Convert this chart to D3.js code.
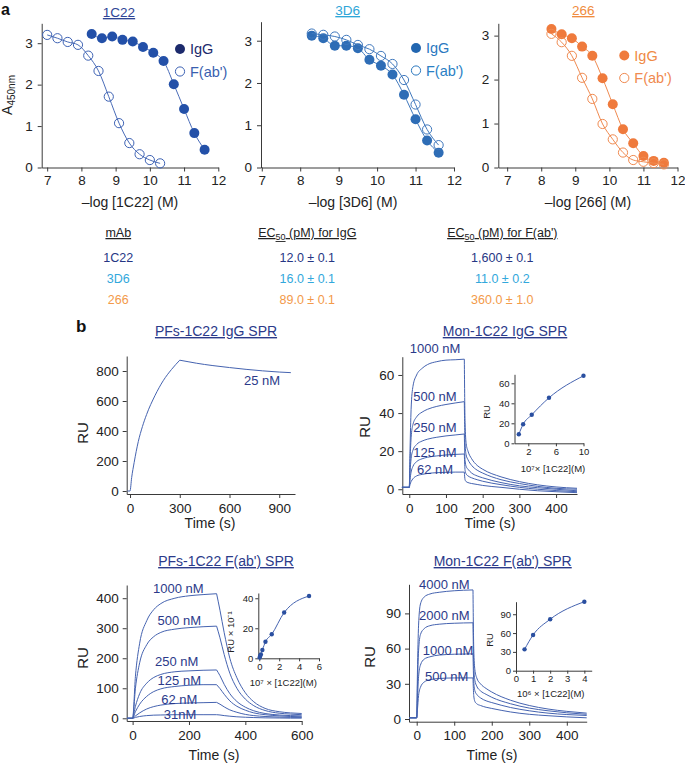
<!DOCTYPE html>
<html><head><meta charset="utf-8">
<script src="https://cdn.jsdelivr.net/npm/d3@7"></script>
<style>
body{margin:0;background:#fff}
text{font-family:"Liberation Sans",Arial,Helvetica,sans-serif}
</style>
</head><body>
<svg id="c" width="685" height="766"></svg>
<script>
// ---------------- Panel a data ----------------
const xTicksA = [7, 8, 9, 10, 11, 12];
const yTicksA = [0, 1, 2, 3];
const conc_1C22_IgG = [8.3, 8.6, 8.9, 9.2, 9.5, 9.8, 10.1, 10.4, 10.7, 11.0, 11.3, 11.6];
const a450_1C22_IgG = [3.22, 3.12, 3.16, 3.08, 3.04, 2.91, 2.77, 2.57, 2.01, 1.41, 0.83, 0.43];
const conc_1C22_Fab = [7.0, 7.3, 7.6, 7.9, 8.2, 8.5, 8.8, 9.1, 9.4, 9.7, 10.0, 10.3];
const a450_1C22_Fab = [3.2, 3.12, 3.03, 2.96, 2.7, 2.33, 1.71, 1.07, 0.59, 0.32, 0.18, 0.1];
const conc_3D6 = [8.3, 8.6, 8.9, 9.2, 9.5, 9.8, 10.1, 10.4, 10.7, 11.0, 11.3, 11.6];
const a450_3D6_IgG = [3.12, 3.06, 2.88, 2.88, 2.82, 2.55, 2.41, 2.2, 1.72, 1.14, 0.64, 0.35];
const a450_3D6_Fab = [3.17, 3.14, 3.1, 3.02, 2.9, 2.8, 2.64, 2.45, 2.07, 1.49, 0.9, 0.53];
const conc_266 = [8.3, 8.6, 8.9, 9.2, 9.5, 9.8, 10.1, 10.4, 10.7, 11.0, 11.3, 11.6];
const a450_266_IgG = [3.15, 3.03, 2.94, 2.75, 2.54, 2.03, 1.44, 0.87, 0.55, 0.26, 0.15, 0.11];
const a450_266_Fab = [3.04, 2.85, 2.54, 2.04, 1.56, 0.99, 0.64, 0.34, 0.17, 0.13, 0.1, 0.07];

// ---------------- Table ----------------
const mAbs = ["1C22", "3D6", "266"];
const ec50IgG = ["12.0 ± 0.1", "16.0 ± 0.1", "89.0 ± 0.1"];
const ec50Fab = ["1,600 ± 0.1", "11.0 ± 0.2", "360.0 ± 1.0"];

// ---------------- Panel b data ----------------
// PFs-1C22 IgG SPR (25 nM)
const pfsIgG_25_assoc = [[-15,0],[0,0],[10,90],[25,190],[50,330],[75,430],[100,510],[150,635],[200,735],[250,810],[300,872]];
const pfsIgG_25_dissoc = [[300,872],[350,862],[400,852],[500,836],[600,823],[700,811],[800,801],[900,793],[970,789]];

// Mon-1C22 IgG SPR
const monIgG_labels = ["1000 nM", "500 nM", "250 nM", "125 nM", "62 nM"];
const monIgG_assoc = [
  [[-20,1],[0,1],[2,20],[5,42],[10,54],[20,60],[35,63.5],[50,65.5],[75,67],[100,67.8],[125,68],[150,68.3]],
  [[-20,1],[0,1],[2,14],[5,27],[10,34],[20,38],[35,40.5],[50,42],[75,43.5],[100,44.5],[125,45.3],[150,46]],
  [[-20,1],[0,1],[2,9],[5,16],[10,20.5],[20,23.5],[35,25.3],[50,26.3],[75,27.3],[100,28],[125,28.5],[150,29]],
  [[-20,1],[0,1],[2,5],[5,9],[10,12],[20,14.5],[35,16],[50,16.8],[75,17.5],[100,18],[125,18.3],[150,18.5]],
  [[-20,1],[0,1],[2,2.5],[5,4],[10,5.5],[20,7],[35,7.8],[50,8.3],[75,8.7],[100,8.9],[125,9],[150,9]]
];
const monIgG_dissoc = [
  [[150,68.3],[152,35],[155,24],[160,20],[170,16],[185,12.5],[200,10.5],[250,6.5],[300,4],[350,2.3],[400,1.2],[457,0.5]],
  [[150,46],[152,24],[155,18],[160,15.5],[170,12.5],[185,10],[200,8.5],[250,5],[300,3],[350,1.5],[400,0.5],[457,0]],
  [[150,29],[152,15],[155,12],[160,10.5],[170,8.5],[185,7],[200,6],[250,3.5],[300,1.8],[350,0.8],[400,0],[457,-0.8]],
  [[150,18.5],[152,10],[155,8],[160,7],[170,6],[185,5],[200,4.2],[250,2.4],[300,1],[350,0],[400,-0.7],[457,-1.3]],
  [[150,9],[152,5],[155,4],[160,3.5],[170,3],[185,2.5],[200,2],[250,1],[300,0],[350,-0.8],[400,-1.3],[457,-1.8]]
];
const monIgG_insetX = [0.625, 1.25, 2.5, 5, 10];
const monIgG_insetY = [9, 19, 28.5, 45.5, 67.5];

// PFs-1C22 F(ab') SPR
const pfsFab_labels = ["1000 nM", "500 nM", "250 nM", "125 nM", "62 nM", "31nM"];
const pfsFab_assoc = [
  [[-20,0],[0,0],[10,140],[25,250],[50,325],[75,362],[100,382],[150,400],[200,408],[250,412],[298,415]],
  [[-20,0],[0,0],[10,100],[25,185],[50,245],[75,272],[100,286],[150,297],[200,302],[250,305],[298,307]],
  [[-20,0],[0,0],[10,40],[25,82],[50,117],[75,136],[100,146],[150,155],[200,158],[250,160],[298,161]],
  [[-20,0],[0,0],[10,22],[25,47],[50,73],[75,89],[100,98],[150,106],[200,110],[250,112],[298,112]],
  [[-20,0],[0,0],[10,8],[25,18],[50,31],[75,39],[100,44],[150,49],[200,51],[250,52],[298,53]],
  [[-20,0],[0,0],[10,3],[25,6],[50,9],[75,10.5],[100,11],[150,12],[200,12],[250,12],[298,12]]
];
const pfsFab_dissoc = [
  [[298,415],[310,360],[325,285],[345,200],[370,135],[400,85],[430,55],[470,33],[520,22],[560,18],[600,16]],
  [[298,307],[310,268],[325,212],[345,150],[370,100],[400,64],[430,42],[470,26],[520,17],[560,14],[600,12]],
  [[298,161],[310,142],[325,113],[345,82],[370,56],[400,37],[430,25],[470,16],[520,11],[560,9],[600,8]],
  [[298,112],[310,99],[325,80],[345,58],[370,40],[400,27],[430,18],[470,12],[520,8],[560,6],[600,5]],
  [[298,53],[310,47],[325,38],[345,28],[370,20],[400,13],[430,9],[470,6],[520,4],[560,3],[600,3]],
  [[298,12],[310,11],[325,9],[345,7],[370,5],[400,3.5],[430,2.5],[470,1.5],[520,1],[560,0.5],[600,0.5]]
];
const pfsFab_insetX = [0.04, 0.08, 0.16, 0.31, 0.62, 1.25, 2.5, 5];
const pfsFab_insetY = [0.5, 1.5, 2.5, 5.5, 11, 16, 30.5, 41.5];

// Mon-1C22 F(ab') SPR
const monFab_labels = ["4000 nM", "2000 nM", "1000 nM", "500 nM"];
const monFab_assoc = [
  [[-20,1],[0,1],[2,40],[5,80],[10,98],[20,104],[35,106.5],[60,108],[100,109.3],[150,110]],
  [[-20,1],[0,1],[2,28],[5,58],[10,72],[20,77],[35,79.5],[60,80.8],[100,81.6],[150,82]],
  [[-20,1],[0,1],[2,16],[5,36],[10,46],[20,51],[35,53],[60,54.5],[100,55.2],[150,55.5]],
  [[-20,1],[0,1],[2,8],[5,20],[10,27],[20,31.5],[35,33.5],[60,34.5],[100,35],[150,35]]
];
const monFab_dissoc = [
  [[150,110],[152,60],[155,42],[160,35],[170,30],[185,26],[200,23],[250,16],[300,11.5],[350,8.5],[400,6.5],[453,5]],
  [[150,82],[152,45],[155,33],[160,28],[170,24],[185,21],[200,18.5],[250,13],[300,9.3],[350,7],[400,5.3],[453,4]],
  [[150,55.5],[152,32],[155,24],[160,21],[170,18],[185,15.5],[200,14],[250,9.8],[300,7],[350,5],[400,3.8],[453,3]],
  [[150,35],[152,20],[155,15],[160,13],[170,11.5],[185,10],[200,9],[250,6],[300,4],[350,2.8],[400,1.8],[453,1]]
];
const monFab_insetX = [0.5, 1, 2, 4];
const monFab_insetY = [34, 57, 82, 110];

// ---------------- Drawing ----------------
const svg = d3.select("#c");
const NAVY = "#2b3a8a";
const CURVE = "#4563b0";
const AXIS = "#3a3a3a";
const zip = (a, b) => a.map((v, i) => [v, b[i]]);
const fmt = d => String(d);

function styleAxis(g, fs) {
  g.select(".domain").attr("stroke", AXIS).attr("stroke-width", 1);
  g.selectAll(".tick line").attr("stroke", AXIS);
  g.selectAll(".tick text").attr("fill", "#222").attr("font-size", fs)
    .attr("font-family", '"Liberation Sans",Arial,sans-serif');
}

function elisa(o) {
  const x = d3.scaleLinear().domain(o.xd).range(o.xr);
  const y = d3.scaleLinear().domain(o.yd).range(o.yr);
  const g = svg.append("g");
  g.append("g").attr("transform", `translate(0,${o.yr[0]})`)
    .call(d3.axisBottom(x).tickValues(xTicksA).tickFormat(fmt).tickSize(4).tickSizeOuter(0).tickPadding(4))
    .call(a => styleAxis(a, 13.5));
  g.append("g").attr("transform", `translate(${o.xr[0]},0)`)
    .call(d3.axisLeft(y).tickValues(yTicksA).tickFormat(fmt).tickSize(4).tickSizeOuter(0).tickPadding(5))
    .call(a => styleAxis(a, 13.5));
  const line = d3.line().x(d => x(d[0])).y(d => y(d[1])).curve(d3.curveMonotoneX);
  o.series.forEach(s => {
    g.append("path").datum(s.pts).attr("d", line).attr("fill", "none")
      .attr("stroke", s.line).attr("stroke-width", 1);
    g.selectAll(null).data(s.pts).enter().append("circle")
      .attr("cx", d => x(d[0])).attr("cy", d => y(d[1])).attr("r", s.filled ? 5 : 4.6)
      .attr("fill", s.filled ? s.color : "none")
      .attr("stroke", s.color).attr("stroke-width", s.filled ? 0 : 1);
  });
  // legend
  o.series.forEach((s, i) => {
    const ly = o.leg[1] + i * 22.5;
    g.append("circle").attr("cx", o.leg[0]).attr("cy", ly).attr("r", s.filled ? 5 : 4.6)
      .attr("fill", s.filled ? s.legColor : "none").attr("stroke", s.legColor)
      .attr("stroke-width", s.filled ? 0 : 1);
    g.append("text").attr("x", o.leg[0] + 10).attr("y", ly + 5).attr("font-size", 14.5)
      .attr("fill", s.textColor).text(s.name);
  });
  g.append("text").attr("x", o.title[0]).attr("y", o.title[1]).attr("text-anchor", "middle")
    .attr("font-size", 13.5).attr("fill", o.titleColor).style("text-decoration", "underline")
    .text(o.titleText);
  g.append("text").attr("x", o.xlab[0]).attr("y", o.xlab[1]).attr("text-anchor", "middle")
    .attr("font-size", 14).attr("fill", "#222").text(o.xlabText);
}

elisa({
  xd: [6.84, 12], xr: [41.7, 218.3], yd: [0, 3.48], yr: [167.5, 23.3],
  series: [
    { name: "IgG", pts: zip(conc_1C22_IgG, a450_1C22_IgG), filled: true, color: "#2350a8", line: "#4a6cb8", legColor: "#1c2a6c", textColor: "#1c2a6c" },
    { name: "F(ab')", pts: zip(conc_1C22_Fab, a450_1C22_Fab), filled: false, color: "#3d62b4", line: "#4a6cb8", legColor: "#3d62b4", textColor: "#3a5fb0" }
  ],
  leg: [180, 49], title: [119, 17], titleColor: "#2f4596", titleText: "1C22",
  xlab: [130, 207], xlabText: "–log [1C22] (M)"
});
elisa({
  xd: [6.98, 12], xr: [261, 454], yd: [0, 3.45], yr: [167.5, 21.7],
  series: [
    { name: "IgG", pts: zip(conc_3D6, a450_3D6_IgG), filled: true, color: "#2e6db6", line: "#3f78bd", legColor: "#2266b0", textColor: "#2a78bf" },
    { name: "F(ab')", pts: zip(conc_3D6, a450_3D6_Fab), filled: false, color: "#3f78bd", line: "#3f78bd", legColor: "#2a78bf", textColor: "#2a80c4" }
  ],
  leg: [416, 48], title: [347.7, 15], titleColor: "#2ea6d8", titleText: "3D6",
  xlab: [353, 207], xlabText: "–log [3D6] (M)"
});
elisa({
  xd: [6.74, 12], xr: [498.3, 677.5], yd: [0, 3.28], yr: [167.5, 23.3],
  series: [
    { name: "IgG", pts: zip(conc_266, a450_266_IgG), filled: true, color: "#ef7a3c", line: "#f08a50", legColor: "#ef7a3c", textColor: "#ef8a45" },
    { name: "F(ab')", pts: zip(conc_266, a450_266_Fab), filled: false, color: "#f08a50", line: "#f08a50", legColor: "#f08a50", textColor: "#f08a50" }
  ],
  leg: [624.3, 55.5], title: [583.3, 15], titleColor: "#f08c40", titleText: "266",
  xlab: [588, 207], xlabText: "–log [266] (M)"
});

// panel letters and y label
svg.append("text").attr("x", 1).attr("y", 15).attr("font-size", 16).attr("font-weight", "bold").attr("fill", "#111").text("a");
const ylab = svg.append("text").attr("transform", "translate(12,95) rotate(-90)").attr("text-anchor", "middle")
  .attr("font-size", 14).attr("fill", "#222");
ylab.append("tspan").text("A");
ylab.append("tspan").attr("font-size", 10).attr("dy", 3).text("450nm");

// table
const tcols = [118.3, 307.3, 502.3];
const rowColors = ["#263684", "#32a8dc", "#f39a4a"];
svg.append("text").attr("x", tcols[0]).attr("y", 237).attr("text-anchor", "middle").attr("font-size", 12.5)
  .attr("fill", "#222").style("text-decoration", "underline").text("mAb");
[[tcols[1], " (pM) for IgG"], [tcols[2], " (pM) for F(ab')"]].forEach(([cx, rest]) => {
  const t = svg.append("text").attr("x", cx).attr("y", 237).attr("text-anchor", "middle").attr("font-size", 12.5)
    .attr("fill", "#222").style("text-decoration", "underline");
  t.append("tspan").text("EC");
  t.append("tspan").attr("font-size", 9).attr("dy", 3).text("50");
  t.append("tspan").attr("dy", -3).text(rest);
});
mAbs.forEach((m, i) => {
  const yy = 261.5 + i * 21;
  [m, ec50IgG[i], ec50Fab[i]].forEach((s, j) => {
    svg.append("text").attr("x", tcols[j]).attr("y", yy).attr("text-anchor", "middle").attr("font-size", 12.5)
      .attr("fill", rowColors[i]).text(s);
  });
});

svg.append("text").attr("x", 76).attr("y", 332).attr("font-size", 17).attr("font-weight", "bold").attr("fill", "#111").text("b");

function spr(o) {
  const x = d3.scaleLinear().domain(o.xd).range(o.xr);
  const y = d3.scaleLinear().domain(o.yd).range(o.yr);
  const g = svg.append("g");
  g.append("g").attr("transform", `translate(0,${o.yr[0]})`)
    .call(d3.axisBottom(x).tickValues(o.xt).tickFormat(fmt).tickSize(4).tickSizeOuter(0).tickPadding(5))
    .call(a => styleAxis(a, 13.5));
  g.append("g").attr("transform", `translate(${o.xr[0]},0)`)
    .call(d3.axisLeft(y).tickValues(o.yt).tickFormat(fmt).tickSize(4).tickSizeOuter(0).tickPadding(4))
    .call(a => styleAxis(a, 13.5));
  const line = d3.line().x(d => x(d[0])).y(d => y(d[1])).curve(d3.curveMonotoneX);
  o.curves.forEach(c => {
    g.append("path").datum(c).attr("d", line).attr("fill", "none").attr("stroke", CURVE).attr("stroke-width", 1);
  });
  o.labels.forEach(l => {
    g.append("text").attr("x", l[0]).attr("y", l[1]).attr("text-anchor", "middle").attr("font-size", 13)
      .attr("fill", NAVY).text(l[2]);
  });
  g.append("text").attr("x", o.title[0]).attr("y", o.title[1]).attr("text-anchor", "middle").attr("font-size", 14)
    .attr("fill", NAVY).style("text-decoration", "underline").text(o.titleText);
  g.append("text").attr("x", o.xlab[0]).attr("y", o.xlab[1]).attr("text-anchor", "middle").attr("font-size", 14)
    .attr("fill", "#222").text("Time (s)");
  g.append("text").attr("transform", `translate(${o.ylab[0]},${o.ylab[1]}) rotate(-90)`).attr("text-anchor", "middle")
    .attr("font-size", 15).attr("fill", "#222").text("RU");
  if (o.inset) inset(o.inset);
}

function inset(o) {
  const x = d3.scaleLinear().domain(o.xd).range(o.xr);
  const y = d3.scaleLinear().domain(o.yd).range(o.yr);
  const g = svg.append("g");
  g.append("g").attr("transform", `translate(0,${o.yr[0]})`)
    .call(d3.axisBottom(x).tickValues(o.xt).tickFormat(fmt).tickSize(3).tickSizeOuter(0).tickPadding(2))
    .call(a => styleAxis(a, 9.5));
  g.append("g").attr("transform", `translate(${o.xr[0]},0)`)
    .call(d3.axisLeft(y).tickValues(o.yt).tickFormat(fmt).tickSize(3).tickSizeOuter(0).tickPadding(2))
    .call(a => styleAxis(a, 9.5));
  const line = d3.line().x(d => x(d[0])).y(d => y(d[1])).curve(d3.curveMonotoneX);
  g.append("path").datum(o.pts).attr("d", line).attr("fill", "none").attr("stroke", CURVE).attr("stroke-width", 1);
  g.selectAll(null).data(o.pts).enter().append("circle").attr("cx", d => x(d[0])).attr("cy", d => y(d[1]))
    .attr("r", 2.2).attr("fill", "#2a4fa0");
  g.append("text").attr("transform", `translate(${o.ylab[0]},${o.ylab[1]}) rotate(-90)`).attr("text-anchor", "middle")
    .attr("font-size", 9.5).attr("fill", "#222").text(o.ylabText);
  g.append("text").attr("x", o.xlab[0]).attr("y", o.xlab[1]).attr("text-anchor", "middle")
    .attr("font-size", 9.5).attr("fill", "#222").text(o.xlabText);
}

spr({
  xd: [-20, 995], xr: [126.7, 295], yd: [-20, 900], yr: [494, 356],
  xt: [0, 300, 600, 900], yt: [0, 200, 400, 600, 800],
  curves: [pfsIgG_25_assoc, pfsIgG_25_dissoc],
  labels: [[262, 385, "25  nM"]],
  title: [216, 336], titleText: "PFs-1C22 IgG SPR",
  xlab: [210, 528], ylab: [88, 433]
});
spr({
  xd: [-19, 457], xr: [402.3, 577], yd: [-2.5, 69.6], yr: [494, 356.7],
  xt: [0, 100, 200, 300, 400], yt: [0, 20, 40, 60],
  curves: monIgG_assoc.concat(monIgG_dissoc),
  labels: [[435, 353, monIgG_labels[0]], [435, 401, monIgG_labels[1]], [435, 432, monIgG_labels[2]],
           [435, 457, monIgG_labels[3]], [435, 473.5, monIgG_labels[4]]],
  title: [505, 336], titleText: "Mon-1C22 IgG SPR",
  xlab: [490, 528], ylab: [370, 427],
  inset: {
    xd: [0, 10], xr: [514.5, 583.5], yd: [0, 69], yr: [443.3, 374.3],
    xt: [2, 6, 10], yt: [0, 20, 40, 60], pts: zip(monIgG_insetX, monIgG_insetY),
    ylab: [490, 412], ylabText: "RU", xlab: [553, 472], xlabText: "10⁷× [1C22](M)"
  }
});
spr({
  xd: [-21, 600], xr: [126.7, 301.7], yd: [-9, 444], yr: [721, 585],
  xt: [0, 200, 400, 600], yt: [0, 100, 200, 300, 400],
  curves: pfsFab_assoc.concat(pfsFab_dissoc),
  labels: [[178.3, 592.5, pfsFab_labels[0]], [179.3, 625, pfsFab_labels[1]], [176.7, 666, pfsFab_labels[2]],
           [179.3, 685, pfsFab_labels[3]], [179.3, 703.5, pfsFab_labels[4]], [180, 718.5, pfsFab_labels[5]]],
  title: [226, 566], titleText: "PFs-1C22 F(ab') SPR",
  xlab: [214, 760], ylab: [88, 658],
  inset: {
    xd: [-0.1, 6], xr: [258.3, 319], yd: [0, 43.5], yr: [658.3, 593],
    xt: [0, 2, 4, 6], yt: [0, 20, 40], pts: zip(pfsFab_insetX, pfsFab_insetY),
    ylab: [234, 632], ylabText: "RU × 10⁻¹", xlab: [283.3, 686], xlabText: "10⁷ × [1C22](M)"
  }
});
spr({
  xd: [-20.5, 453], xr: [409, 586.7], yd: [-2.3, 114.8], yr: [721.7, 584.3],
  xt: [0, 100, 200, 300, 400], yt: [0, 30, 60, 90],
  curves: monFab_assoc.concat(monFab_dissoc),
  labels: [[444.3, 588.5, monFab_labels[0]], [444.3, 620, monFab_labels[1]], [448, 654.5, monFab_labels[2]],
           [446.7, 681, monFab_labels[3]]],
  title: [502.7, 566], titleText: "Mon-1C22 F(ab') SPR",
  xlab: [492, 760], ylab: [375, 657],
  inset: {
    xd: [0, 4.43], xr: [516, 591.7], yd: [0, 110], yr: [670.7, 601.7],
    xt: [0, 1, 2, 3, 4], yt: [0, 30, 60, 90], pts: zip(monFab_insetX, monFab_insetY),
    ylab: [493, 640], ylabText: "RU", xlab: [550.7, 697], xlabText: "10⁶ × [1C22](M)"
  }
});
</script>
</body></html>
